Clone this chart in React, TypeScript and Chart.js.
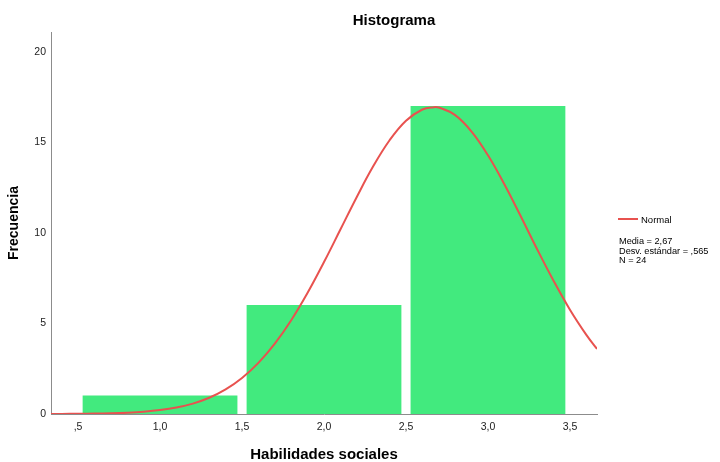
import React, { useEffect, useRef } from "react";
import { Chart, registerables } from "chart.js";

Chart.register(...registerables);

// Histogram bins (centres) and frequencies
const binCenters = [1.0, 2.0, 3.0];
const frequencies = [1, 6, 17];

// Normal curve (x, y pairs)
const curveX = [0.335, 0.4, 0.5, 0.6, 0.7, 0.8, 0.9, 1.0, 1.1, 1.2, 1.3, 1.4, 1.5, 1.6, 1.7, 1.8, 1.9, 2.0, 2.1, 2.2, 2.3, 2.4, 2.5, 2.6, 2.67, 2.7, 2.8, 2.9, 3.0, 3.1, 3.2, 3.3, 3.4, 3.5, 3.6, 3.665];
const curveY = [0.003, 0.005, 0.011, 0.021, 0.039, 0.071, 0.125, 0.215, 0.357, 0.574, 0.896, 1.356, 1.987, 2.821, 3.883, 5.178, 6.695, 8.392, 10.19, 11.99, 13.68, 15.12, 16.2, 16.82, 16.95, 16.93, 16.51, 15.6, 14.29, 12.69, 10.92, 9.1, 7.36, 5.76, 4.37, 3.59];

const xMin = 0.335;
const xMax = 3.665;
const yMax = 21.1;

const title = "Histograma";
const xTitle = "Habilidades sociales";
const yTitle = "Frecuencia";
const legendLabel = "Normal";
const statsLines = ["Media = 2,67", "Desv. estándar = ,565", "N = 24"];

const BAR_COLOR = "#42EA7E";
const CURVE_COLOR = "#E8524F";
const AXIS_COLOR = "#8c8c8c";
const FONT = "Arial, 'Liberation Sans', sans-serif";

function fmtX(v: number): string {
  return v.toFixed(1).replace(".", ",").replace(/^0/, "");
}

export default function App() {
  const ref = useRef<HTMLCanvasElement | null>(null);

  useEffect(() => {
    if (!ref.current) return;
    const chart = new Chart(ref.current, {
      type: "bar",
      data: {
        datasets: [
          {
            type: "line",
            label: legendLabel,
            data: curveX.map((x, i) => ({ x, y: curveY[i] })),
            borderColor: CURVE_COLOR,
            borderWidth: 2,
            pointRadius: 0,
            tension: 0.4,
            fill: false,
            order: 0,
          } as any,
          {
            type: "bar",
            label: "Frecuencia",
            data: binCenters.map((x, i) => ({ x, y: frequencies[i] })),
            backgroundColor: BAR_COLOR,
            borderWidth: 0,
            barThickness: "flex",
            categoryPercentage: 0.94,
            barPercentage: 1,
            order: 1,
          } as any,
        ],
      },
      options: {
        responsive: false,
        animation: false,
        devicePixelRatio: 1,
        layout: { padding: { top: 32, right: 123, left: 0, bottom: 0 } },
        plugins: {
          legend: { display: false },
          tooltip: { enabled: false },
          title: { display: false },
        },
        scales: {
          x: {
            type: "linear",
            min: xMin,
            max: xMax,
            offset: false,
            grid: { display: false, drawTicks: false },
            border: { display: true, color: AXIS_COLOR, width: 1 },
            ticks: {
              stepSize: 0.5,
              includeBounds: false,
              padding: 7,
              color: "#222",
              font: { family: FONT, size: 10.5 },
              callback: (v: any) => fmtX(Number(v)),
            },
            title: {
              display: true,
              text: xTitle,
              color: "#000",
              font: { family: FONT, size: 15, weight: "bold", lineHeight: 1 },
              padding: { top: 0, bottom: 0 },
            },
            afterFit: (s: any) => {
              s.height = 48;
            },
          },
          y: {
            type: "linear",
            min: 0,
            max: yMax,
            grid: { display: false, drawTicks: false },
            border: { display: true, color: AXIS_COLOR, width: 1 },
            ticks: {
              stepSize: 5,
              includeBounds: false,
              padding: 5,
              color: "#222",
              font: { family: FONT, size: 10.5 },
            },
            title: {
              display: true,
              text: yTitle,
              color: "#000",
              font: { family: FONT, size: 14, weight: "bold", lineHeight: 1 },
              padding: { top: 7, bottom: 0 },
            },
            afterFit: (s: any) => {
              s.width = 51;
            },
          },
        },
      } as any,
    });
    return () => chart.destroy();
  }, []);

  return (
    <div style={{ position: "absolute", left: 0, top: 0, width: 720, height: 462, background: "#fff", fontFamily: FONT }}>
      <canvas ref={ref} width={720} height={462} style={{ position: "absolute", left: 0, top: 0 }} />
      <div
        style={{
          position: "absolute",
          left: 394,
          top: 11.5,
          transform: "translateX(-50%)",
          fontSize: 15,
          fontWeight: "bold",
          lineHeight: "15px",
          whiteSpace: "nowrap",
          color: "#000",
        }}
      >
        {title}
      </div>
      <div style={{ position: "absolute", left: 618, top: 218, width: 20, height: 2, background: CURVE_COLOR }} />
      <div style={{ position: "absolute", left: 641, top: 214.5, fontSize: 9.5, lineHeight: "10px", color: "#000", whiteSpace: "nowrap" }}>
        {legendLabel}
      </div>
      <div style={{ position: "absolute", left: 619, top: 237, fontSize: 9.2, lineHeight: "9.5px", color: "#000", whiteSpace: "nowrap" }}>
        {statsLines.map((l, i) => (
          <div key={i}>{l}</div>
        ))}
      </div>
    </div>
  );
}
